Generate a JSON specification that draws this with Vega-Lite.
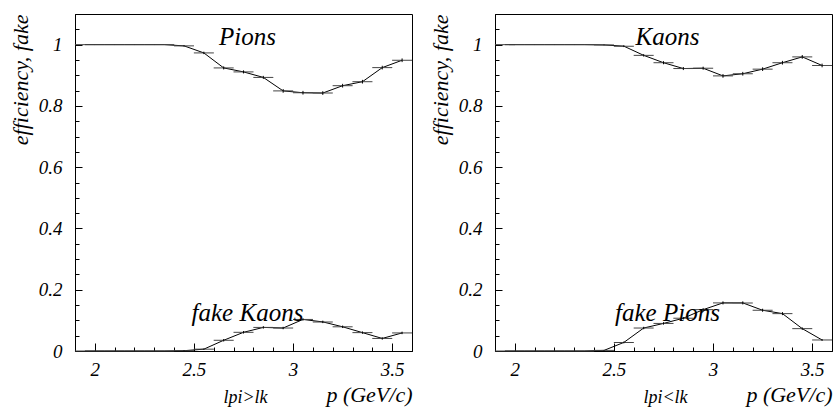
{
"$schema": "https://vega.github.io/schema/vega-lite/v6.json",
"padding": {"left": 8, "top": 4, "right": 0, "bottom": 0},
"background": "#ffffff",
"spacing": 15,
"config": {
  "view": {"stroke": "#000", "strokeWidth": 1},
  "font": "Liberation Serif, Times New Roman, Times, serif",
  "axis": {"grid": false, "domainColor": "#000", "tickColor": "#000", "labelColor": "#000", "titleColor": "#000", "labelFont": "Liberation Serif, Times New Roman, Times, serif", "titleFont": "Liberation Serif, Times New Roman, Times, serif", "labelFontStyle": "italic", "titleFontStyle": "italic", "titleFontWeight": "normal", "labelOverlap": false, "labelFlush": false}
},
"datasets": {
  "d": [
    {"panel": "L", "series": "eff", "p": 1.95, "v": 1.0, "err": 0},
    {"panel": "L", "series": "eff", "p": 2.05, "v": 1.0, "err": 0},
    {"panel": "L", "series": "eff", "p": 2.15, "v": 1.0, "err": 0},
    {"panel": "L", "series": "eff", "p": 2.25, "v": 1.0, "err": 0},
    {"panel": "L", "series": "eff", "p": 2.35, "v": 1.0, "err": 0},
    {"panel": "L", "series": "eff", "p": 2.45, "v": 0.996, "err": 0.002},
    {"panel": "L", "series": "eff", "p": 2.55, "v": 0.973, "err": 0.004},
    {"panel": "L", "series": "eff", "p": 2.65, "v": 0.924, "err": 0.005},
    {"panel": "L", "series": "eff", "p": 2.75, "v": 0.911, "err": 0.005},
    {"panel": "L", "series": "eff", "p": 2.85, "v": 0.893, "err": 0.005},
    {"panel": "L", "series": "eff", "p": 2.95, "v": 0.849, "err": 0.006},
    {"panel": "L", "series": "eff", "p": 3.05, "v": 0.843, "err": 0.006},
    {"panel": "L", "series": "eff", "p": 3.15, "v": 0.842, "err": 0.006},
    {"panel": "L", "series": "eff", "p": 3.25, "v": 0.866, "err": 0.006},
    {"panel": "L", "series": "eff", "p": 3.35, "v": 0.879, "err": 0.006},
    {"panel": "L", "series": "eff", "p": 3.45, "v": 0.925, "err": 0.006},
    {"panel": "L", "series": "eff", "p": 3.55, "v": 0.949, "err": 0.006},
    {"panel": "L", "series": "fake", "p": 1.95, "v": 0, "err": 0},
    {"panel": "L", "series": "fake", "p": 2.05, "v": 0, "err": 0},
    {"panel": "L", "series": "fake", "p": 2.15, "v": 0, "err": 0},
    {"panel": "L", "series": "fake", "p": 2.25, "v": 0, "err": 0},
    {"panel": "L", "series": "fake", "p": 2.35, "v": 0, "err": 0},
    {"panel": "L", "series": "fake", "p": 2.45, "v": 0.001, "err": 0.001},
    {"panel": "L", "series": "fake", "p": 2.55, "v": 0.006, "err": 0.002},
    {"panel": "L", "series": "fake", "p": 2.65, "v": 0.035, "err": 0.004},
    {"panel": "L", "series": "fake", "p": 2.75, "v": 0.061, "err": 0.004},
    {"panel": "L", "series": "fake", "p": 2.85, "v": 0.077, "err": 0.004},
    {"panel": "L", "series": "fake", "p": 2.95, "v": 0.075, "err": 0.004},
    {"panel": "L", "series": "fake", "p": 3.05, "v": 0.103, "err": 0.004},
    {"panel": "L", "series": "fake", "p": 3.15, "v": 0.095, "err": 0.004},
    {"panel": "L", "series": "fake", "p": 3.25, "v": 0.079, "err": 0.004},
    {"panel": "L", "series": "fake", "p": 3.35, "v": 0.060, "err": 0.004},
    {"panel": "L", "series": "fake", "p": 3.45, "v": 0.041, "err": 0.004},
    {"panel": "L", "series": "fake", "p": 3.55, "v": 0.059, "err": 0.004},
    {"panel": "R", "series": "eff", "p": 1.95, "v": 1.0, "err": 0},
    {"panel": "R", "series": "eff", "p": 2.05, "v": 1.0, "err": 0},
    {"panel": "R", "series": "eff", "p": 2.15, "v": 1.0, "err": 0},
    {"panel": "R", "series": "eff", "p": 2.25, "v": 1.0, "err": 0},
    {"panel": "R", "series": "eff", "p": 2.35, "v": 1.0, "err": 0},
    {"panel": "R", "series": "eff", "p": 2.45, "v": 0.999, "err": 0.001},
    {"panel": "R", "series": "eff", "p": 2.55, "v": 0.995, "err": 0.003},
    {"panel": "R", "series": "eff", "p": 2.65, "v": 0.965, "err": 0.004},
    {"panel": "R", "series": "eff", "p": 2.75, "v": 0.941, "err": 0.005},
    {"panel": "R", "series": "eff", "p": 2.85, "v": 0.922, "err": 0.005},
    {"panel": "R", "series": "eff", "p": 2.95, "v": 0.923, "err": 0.005},
    {"panel": "R", "series": "eff", "p": 3.05, "v": 0.898, "err": 0.006},
    {"panel": "R", "series": "eff", "p": 3.15, "v": 0.905, "err": 0.006},
    {"panel": "R", "series": "eff", "p": 3.25, "v": 0.920, "err": 0.006},
    {"panel": "R", "series": "eff", "p": 3.35, "v": 0.941, "err": 0.006},
    {"panel": "R", "series": "eff", "p": 3.45, "v": 0.960, "err": 0.006},
    {"panel": "R", "series": "eff", "p": 3.55, "v": 0.932, "err": 0.006},
    {"panel": "R", "series": "fake", "p": 1.95, "v": 0, "err": 0},
    {"panel": "R", "series": "fake", "p": 2.05, "v": 0, "err": 0},
    {"panel": "R", "series": "fake", "p": 2.15, "v": 0, "err": 0},
    {"panel": "R", "series": "fake", "p": 2.25, "v": 0, "err": 0},
    {"panel": "R", "series": "fake", "p": 2.35, "v": 0, "err": 0},
    {"panel": "R", "series": "fake", "p": 2.45, "v": 0.002, "err": 0.001},
    {"panel": "R", "series": "fake", "p": 2.55, "v": 0.028, "err": 0.003},
    {"panel": "R", "series": "fake", "p": 2.65, "v": 0.075, "err": 0.004},
    {"panel": "R", "series": "fake", "p": 2.75, "v": 0.090, "err": 0.004},
    {"panel": "R", "series": "fake", "p": 2.85, "v": 0.107, "err": 0.004},
    {"panel": "R", "series": "fake", "p": 2.95, "v": 0.135, "err": 0.005},
    {"panel": "R", "series": "fake", "p": 3.05, "v": 0.157, "err": 0.005},
    {"panel": "R", "series": "fake", "p": 3.15, "v": 0.157, "err": 0.005},
    {"panel": "R", "series": "fake", "p": 3.25, "v": 0.133, "err": 0.005},
    {"panel": "R", "series": "fake", "p": 3.35, "v": 0.122, "err": 0.005},
    {"panel": "R", "series": "fake", "p": 3.45, "v": 0.073, "err": 0.004},
    {"panel": "R", "series": "fake", "p": 3.55, "v": 0.036, "err": 0.003}
  ]
},
"hconcat": [
  {
    "width": 337, "height": 337,
    "data": {"name": "d"},
    "transform": [{"filter": "datum.panel == 'L'"}],
    "encoding": {
      "x": {"field": "p", "type": "quantitative",
        "scale": {"domain": [1.9, 3.6], "nice": false, "zero": false},
        "axis": {"values": [1.9, 2.0, 2.1, 2.2, 2.3, 2.4, 2.5, 2.6, 2.7, 2.8, 2.9, 3.0, 3.1, 3.2, 3.3, 3.4, 3.5, 3.6],
          "labelExpr": "abs(datum.value*2-round(datum.value*2))<1e-6 ? format(datum.value,'~g') : ''",
          "tickSize": {"condition": {"test": "abs(datum.value*2-round(datum.value*2))<1e-6", "value": -8}, "value": -4},
          "labelPadding": 17, "labelFontSize": 19,
          "title": "p (GeV/c)", "titleFontSize": 22, "titleAnchor": "end", "titlePadding": 1}},
      "y": {"field": "v", "type": "quantitative",
        "scale": {"domain": [0, 1.1], "nice": false, "zero": true},
        "axis": {"values": [0, 0.05, 0.1, 0.15, 0.2, 0.25, 0.3, 0.35, 0.4, 0.45, 0.5, 0.55, 0.6, 0.65, 0.7, 0.75, 0.8, 0.85, 0.9, 0.95, 1.0, 1.05, 1.1],
          "labelExpr": "(abs(datum.value*5-round(datum.value*5))<1e-6 && datum.value < 1.05) ? format(datum.value,'~g') : ''",
          "tickSize": {"condition": {"test": "abs(datum.value*5-round(datum.value*5))<1e-6", "value": -7}, "value": -4},
          "labelPadding": 20, "labelFontSize": 19,
          "title": "efficiency, fake", "titleFontSize": 22, "titleAnchor": "end", "titlePadding": 6}}
    },
    "layer": [
      {"mark": {"type": "line", "color": "#000", "strokeWidth": 1}, "encoding": {"detail": {"field": "series"}}},
      {"mark": {"type": "tick", "orient": "horizontal", "size": 20, "thickness": 1, "color": "#444", "opacity": 1}},
      {"mark": {"type": "errorbar", "color": "#000"}, "encoding": {"yError": {"field": "err"}}},
      {"mark": {"type": "text", "text": "Pions", "fontStyle": "italic", "fontSize": 25, "align": "center", "color": "#000"},
       "encoding": {"x": {"datum": 2.77, "type": "quantitative"}, "y": {"datum": 1.025, "type": "quantitative"}}, "transform": [{"filter": "datum.p == 1.95 && datum.series == 'eff'"}]},
      {"mark": {"type": "text", "text": "fake Kaons", "fontStyle": "italic", "fontSize": 25, "align": "center", "color": "#000"},
       "encoding": {"x": {"datum": 2.77, "type": "quantitative"}, "y": {"datum": 0.123, "type": "quantitative"}}, "transform": [{"filter": "datum.p == 1.95 && datum.series == 'eff'"}]},
      {"mark": {"type": "text", "text": "lpi>lk", "fontStyle": "italic", "fontSize": 18, "align": "center", "color": "#000"},
       "encoding": {"x": {"datum": 2.76, "type": "quantitative"}, "y": {"datum": -0.155, "type": "quantitative"}}, "transform": [{"filter": "datum.p == 1.95 && datum.series == 'eff'"}]}
    ]
  },
  {
    "width": 337, "height": 337,
    "data": {"name": "d"},
    "transform": [{"filter": "datum.panel == 'R'"}],
    "encoding": {
      "x": {"field": "p", "type": "quantitative",
        "scale": {"domain": [1.9, 3.6], "nice": false, "zero": false},
        "axis": {"values": [1.9, 2.0, 2.1, 2.2, 2.3, 2.4, 2.5, 2.6, 2.7, 2.8, 2.9, 3.0, 3.1, 3.2, 3.3, 3.4, 3.5, 3.6],
          "labelExpr": "abs(datum.value*2-round(datum.value*2))<1e-6 ? format(datum.value,'~g') : ''",
          "tickSize": {"condition": {"test": "abs(datum.value*2-round(datum.value*2))<1e-6", "value": -8}, "value": -4},
          "labelPadding": 17, "labelFontSize": 19,
          "title": "p (GeV/c)", "titleFontSize": 22, "titleAnchor": "end", "titlePadding": 1}},
      "y": {"field": "v", "type": "quantitative",
        "scale": {"domain": [0, 1.1], "nice": false, "zero": true},
        "axis": {"values": [0, 0.05, 0.1, 0.15, 0.2, 0.25, 0.3, 0.35, 0.4, 0.45, 0.5, 0.55, 0.6, 0.65, 0.7, 0.75, 0.8, 0.85, 0.9, 0.95, 1.0, 1.05, 1.1],
          "labelExpr": "(abs(datum.value*5-round(datum.value*5))<1e-6 && datum.value < 1.05) ? format(datum.value,'~g') : ''",
          "tickSize": {"condition": {"test": "abs(datum.value*5-round(datum.value*5))<1e-6", "value": -7}, "value": -4},
          "labelPadding": 20, "labelFontSize": 19,
          "title": "efficiency, fake", "titleFontSize": 22, "titleAnchor": "end", "titlePadding": 6}}
    },
    "layer": [
      {"mark": {"type": "line", "color": "#000", "strokeWidth": 1}, "encoding": {"detail": {"field": "series"}}},
      {"mark": {"type": "tick", "orient": "horizontal", "size": 20, "thickness": 1, "color": "#444", "opacity": 1}},
      {"mark": {"type": "errorbar", "color": "#000"}, "encoding": {"yError": {"field": "err"}}},
      {"mark": {"type": "text", "text": "Kaons", "fontStyle": "italic", "fontSize": 25, "align": "center", "color": "#000"},
       "encoding": {"x": {"datum": 2.77, "type": "quantitative"}, "y": {"datum": 1.025, "type": "quantitative"}}, "transform": [{"filter": "datum.p == 1.95 && datum.series == 'eff'"}]},
      {"mark": {"type": "text", "text": "fake Pions", "fontStyle": "italic", "fontSize": 25, "align": "center", "color": "#000"},
       "encoding": {"x": {"datum": 2.77, "type": "quantitative"}, "y": {"datum": 0.123, "type": "quantitative"}}, "transform": [{"filter": "datum.p == 1.95 && datum.series == 'eff'"}]},
      {"mark": {"type": "text", "text": "lpi<lk", "fontStyle": "italic", "fontSize": 18, "align": "center", "color": "#000"},
       "encoding": {"x": {"datum": 2.76, "type": "quantitative"}, "y": {"datum": -0.155, "type": "quantitative"}}, "transform": [{"filter": "datum.p == 1.95 && datum.series == 'eff'"}]}
    ]
  }
]
}
